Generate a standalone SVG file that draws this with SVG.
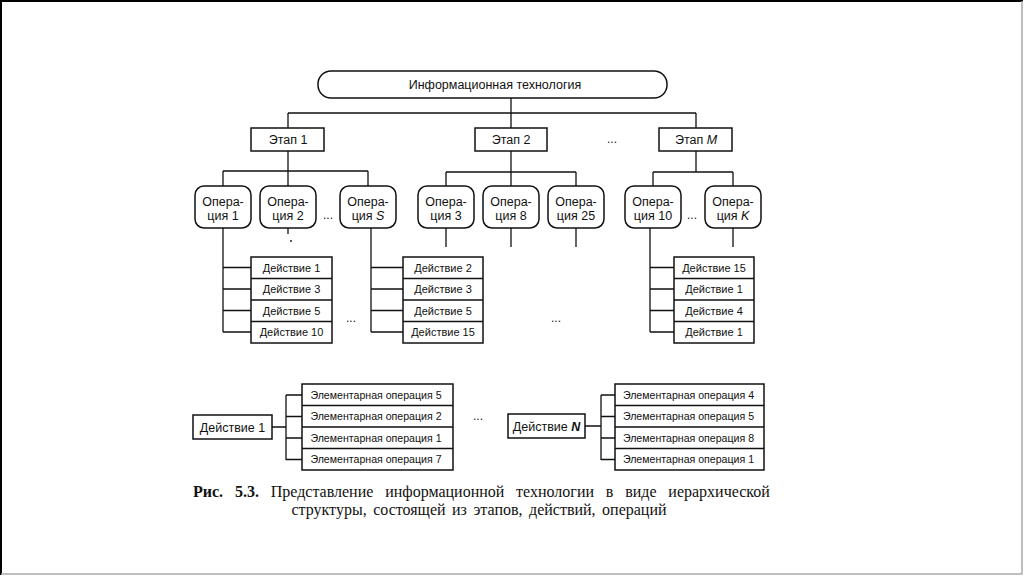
<svg xmlns="http://www.w3.org/2000/svg" width="1024" height="576" viewBox="0 0 1024 576">
<style>
.bx{fill:#fff;stroke:#111;stroke-width:1.5}
.ln{fill:none;stroke:#111;stroke-width:1.3}
.t{font-family:"Liberation Sans",Arial,sans-serif;font-size:11px;fill:#111;text-anchor:middle}
.t12{font-size:12.5px}
.op{font-size:12.5px}
.el{font-size:10.6px}
.i{font-style:italic}
.cap{font-family:"Liberation Serif","Times New Roman",serif;font-size:16px;fill:#111}
.dots{font-family:"Liberation Sans",Arial,sans-serif;font-size:12px;fill:#111;text-anchor:middle}
</style>
<rect x="0" y="0" width="1024" height="576" fill="#fff"/>
<path d="M1,575 V1 H1023" fill="none" stroke="#000" stroke-width="2"/>
<path d="M1022,1 V574 H1" fill="none" stroke="#aaa" stroke-width="1.5"/>

<g id="connectors" class="ln">
<path d="M511,97 V113 M288,113 H696 M288,113 V128 M511,113 V128 M696,113 V128"/>
<path d="M288,151 V171 M223,171 H368 M223,171 V186 M288,171 V186 M368,171 V186"/>
<path d="M511,151 V172 M446,172 H576 M446,172 V186 M511,172 V186 M576,172 V186"/>
<path d="M696,151 V172 M653,172 H733 M653,172 V186 M733,172 V186"/>
<path d="M223,228 V332 M223,267.5 H251 M223,289 H251 M223,310.5 H251 M223,332 H251"/>
<path d="M288,228 V234"/>
<path d="M371,228 V332 M371,267.5 H403 M371,289 H403 M371,310.5 H403 M371,332 H403"/>
<path d="M446,228 V247 M511,228 V247 M576,228 V247 M733,228 V247"/>
<path d="M650,228 V332 M650,267.5 H674 M650,289 H674 M650,310.5 H674 M650,332 H674"/>
<path d="M272,427 H286 M286,395 V460 M286,395 H302 M286,416.5 H302 M286,438 H302 M286,459.5 H302"/>
<path d="M585,426 H601 M601,395 V460 M601,395 H615 M601,416.5 H615 M601,438 H615 M601,459.5 H615"/>
</g>
<circle cx="291" cy="241" r="0.9" fill="#111"/>

<g id="it">
<rect class="bx" x="318" y="71" width="349" height="27" rx="13"/>
<text class="t t12" x="495" y="89">Информационная технология</text>
</g>

<g id="stage1"><rect class="bx" x="251" y="128" width="73" height="23"/><text class="t t12" x="288" y="144">Этап 1</text></g>
<g id="stage2"><rect class="bx" x="475" y="128" width="72" height="23"/><text class="t t12" x="511" y="144">Этап 2</text></g>
<g id="stageM"><rect class="bx" x="659" y="128" width="73" height="23"/><text class="t t12" x="696" y="144">Этап <tspan class="i">M</tspan></text></g>
<text class="dots" x="612" y="143">...</text>

<g id="op1"><rect class="bx" x="195" y="186" width="56" height="42" rx="9"/><text class="t op" x="223" y="206">Опера-</text><text class="t op" x="223" y="220">ция 1</text></g>
<g id="op2"><rect class="bx" x="260" y="186" width="56" height="42" rx="9"/><text class="t op" x="288" y="206">Опера-</text><text class="t op" x="288" y="220">ция 2</text></g>
<text class="dots" x="328" y="219">...</text>
<g id="opS"><rect class="bx" x="340" y="186" width="56" height="42" rx="9"/><text class="t op" x="368" y="206">Опера-</text><text class="t op" x="368" y="220">ция <tspan class="i">S</tspan></text></g>
<g id="op3"><rect class="bx" x="418" y="186" width="56" height="42" rx="9"/><text class="t op" x="446" y="206">Опера-</text><text class="t op" x="446" y="220">ция 3</text></g>
<g id="op8"><rect class="bx" x="483" y="186" width="56" height="42" rx="9"/><text class="t op" x="511" y="206">Опера-</text><text class="t op" x="511" y="220">ция 8</text></g>
<g id="op25"><rect class="bx" x="548" y="186" width="56" height="42" rx="9"/><text class="t op" x="576" y="206">Опера-</text><text class="t op" x="576" y="220">ция 25</text></g>
<g id="op10"><rect class="bx" x="625" y="186" width="56" height="42" rx="9"/><text class="t op" x="653" y="206">Опера-</text><text class="t op" x="653" y="220">ция 10</text></g>
<text class="dots" x="692" y="219">...</text>
<g id="opK"><rect class="bx" x="705" y="186" width="56" height="42" rx="9"/><text class="t op" x="733" y="206">Опера-</text><text class="t op" x="733" y="220">ция <tspan class="i">K</tspan></text></g>

<g id="actions1">
<rect class="bx" x="251" y="257" width="81" height="86"/>
<path class="ln" d="M251,278.5 H332 M251,300 H332 M251,321.5 H332"/>
<text class="t" x="291.5" y="271.5">Действие 1</text>
<text class="t" x="291.5" y="293">Действие 3</text>
<text class="t" x="291.5" y="314.5">Действие 5</text>
<text class="t" x="291.5" y="336">Действие 10</text>
</g>
<text class="dots" x="351" y="322">...</text>
<g id="actions2">
<rect class="bx" x="403" y="257" width="80" height="86"/>
<path class="ln" d="M403,278.5 H483 M403,300 H483 M403,321.5 H483"/>
<text class="t" x="443" y="271.5">Действие 2</text>
<text class="t" x="443" y="293">Действие 3</text>
<text class="t" x="443" y="314.5">Действие 5</text>
<text class="t" x="443" y="336">Действие 15</text>
</g>
<text class="dots" x="556" y="322">...</text>
<g id="actions3">
<rect class="bx" x="674" y="257" width="80" height="86"/>
<path class="ln" d="M674,278.5 H754 M674,300 H754 M674,321.5 H754"/>
<text class="t" x="714" y="271.5">Действие 15</text>
<text class="t" x="714" y="293">Действие 1</text>
<text class="t" x="714" y="314.5">Действие 4</text>
<text class="t" x="714" y="336">Действие 1</text>
</g>

<g id="action1"><rect class="bx" x="193" y="415" width="79" height="24"/><text class="t t12" x="232.5" y="431.5">Действие 1</text></g>
<g id="elem1">
<rect class="bx" x="302" y="384" width="151" height="86"/>
<path class="ln" d="M302,405.5 H453 M302,427 H453 M302,448.5 H453"/>
<text class="t el" x="376" y="398.5">Элементарная операция 5</text>
<text class="t el" x="376" y="420">Элементарная операция 2</text>
<text class="t el" x="376" y="441.5">Элементарная операция 1</text>
<text class="t el" x="376" y="463">Элементарная операция 7</text>
</g>
<text class="dots" x="478" y="420">...</text>
<g id="actionN"><rect class="bx" x="508" y="414" width="77" height="24"/><text class="t t12" x="546.5" y="430.5">Действие <tspan class="i" font-weight="bold">N</tspan></text></g>
<g id="elemN">
<rect class="bx" x="615" y="384" width="149" height="86"/>
<path class="ln" d="M615,405.5 H764 M615,427 H764 M615,448.5 H764"/>
<text class="t el" x="688.5" y="398.5">Элементарная операция 4</text>
<text class="t el" x="688.5" y="420">Элементарная операция 5</text>
<text class="t el" x="688.5" y="441.5">Элементарная операция 8</text>
<text class="t el" x="688.5" y="463">Элементарная операция 1</text>
</g>

<text class="cap" x="193" y="497" word-spacing="7.8"><tspan font-weight="bold">Рис. 5.3.</tspan> Представление информационной технологии в виде иерархической</text>
<text class="cap" x="479" y="515" text-anchor="middle" word-spacing="2.5">структуры, состоящей из этапов, действий, операций</text>
</svg>
